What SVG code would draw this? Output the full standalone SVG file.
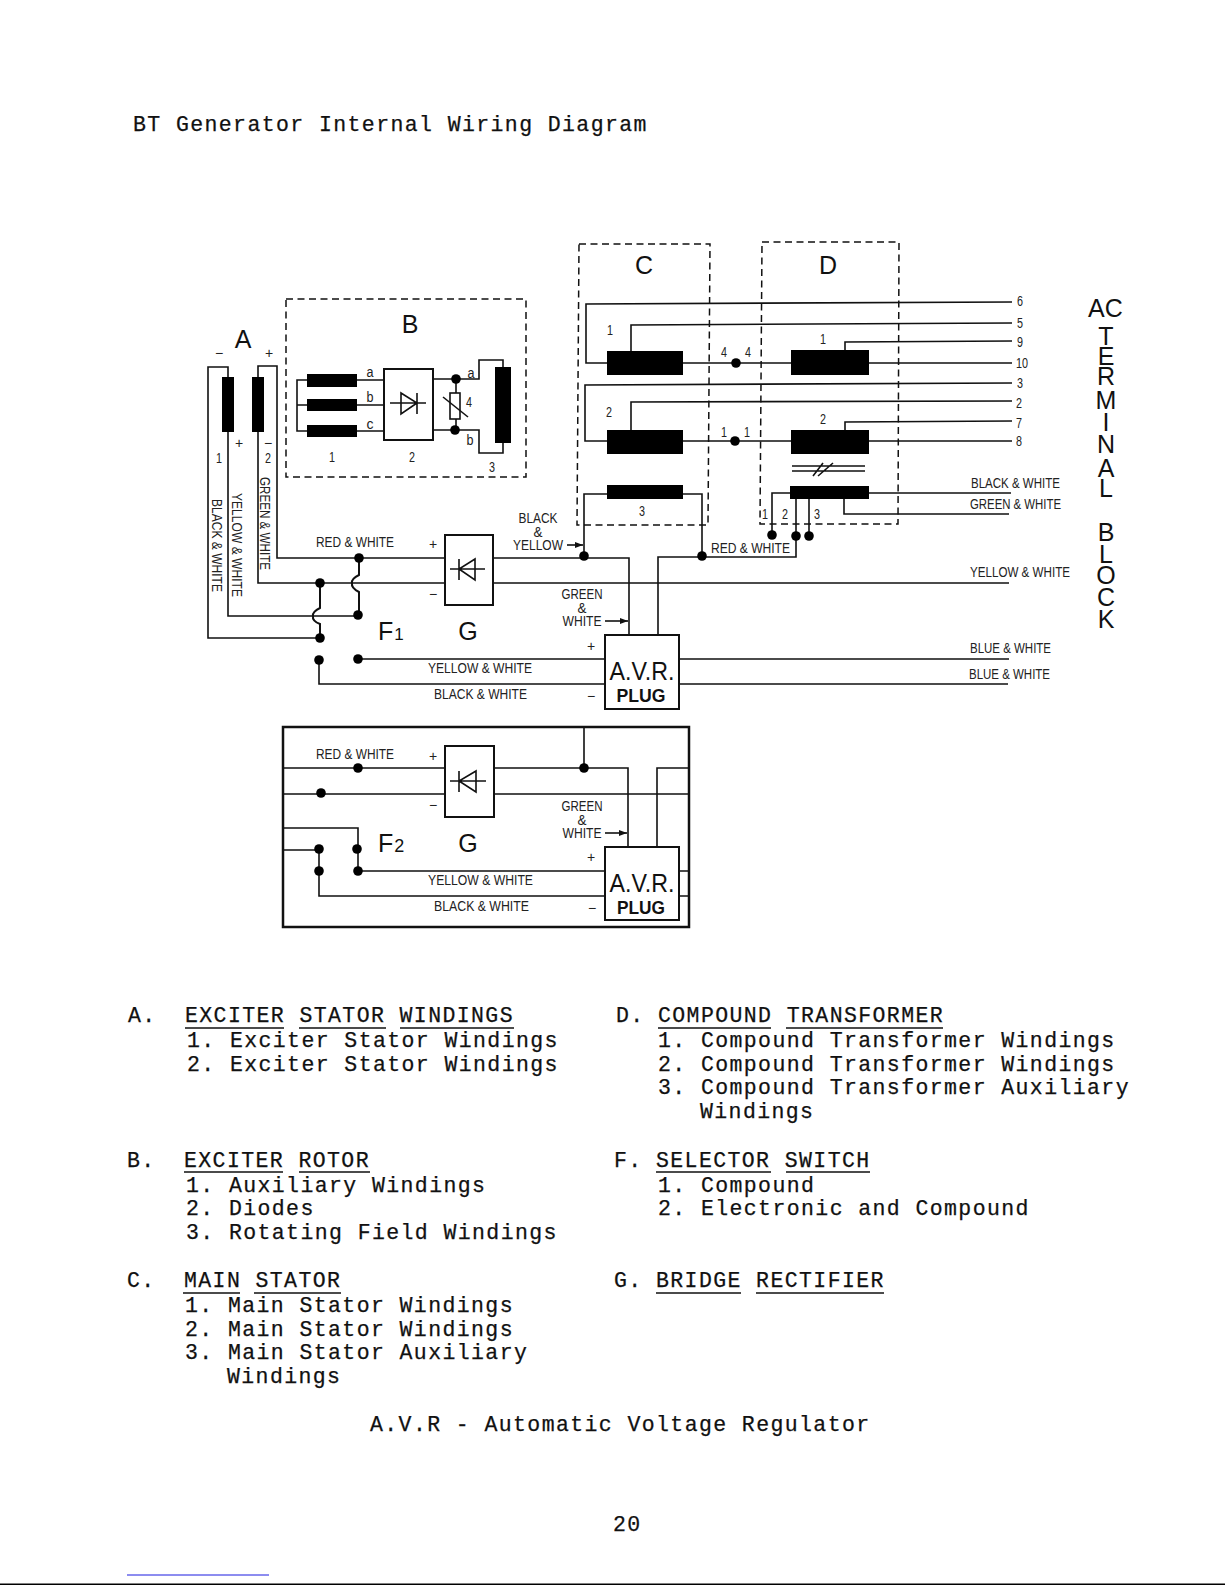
<svg xmlns="http://www.w3.org/2000/svg" width="1225" height="1585" viewBox="0 0 1225 1585">
<style>
.w{fill:none;stroke:#111;stroke-width:1.6}
.b{fill:#fff;stroke:#111;stroke-width:2}
.d{fill:none;stroke:#111;stroke-width:1.5;stroke-dasharray:7 4.5}
.k{fill:#000;stroke:none}
.s{font-family:"Liberation Sans",Arial,sans-serif;font-size:14px;fill:#222}
.m{text-anchor:middle}
.L{font-family:"Liberation Sans",Arial,sans-serif;font-size:25px;fill:#111}
.t{font-family:"Liberation Mono","Courier New",monospace;font-size:21.5px;letter-spacing:1.4px;fill:#111;stroke:#111;stroke-width:.25;white-space:pre}
.u{stroke:#111;stroke-width:1.6;fill:none}
</style>
<defs>
<marker id="ah" viewBox="0 0 8 6" refX="8" refY="3" markerWidth="8" markerHeight="6" markerUnits="userSpaceOnUse" orient="auto"><path d="M0 0L8 3L0 6z" fill="#111"/></marker>
<circle id="dot" r="4.8" fill="#000"/>
</defs>
<rect width="1225" height="1585" fill="#fff"/>
<text class="t" x="133" y="131">BT Generator Internal Wiring Diagram</text>

<g id="connectors">
<path class="w" d="M228 377V367H208V638H320"/>
<path class="w" d="M228 432V616H358"/>
<path class="w" d="M258 377V366H277V558H445"/>
<path class="w" d="M258 432V583H445"/>
<path class="w" style="stroke-width:2" d="M320 583V608Q312 612 313 616Q312 621 320 624V638"/>
<path class="w" style="stroke-width:2" d="M359 558V575Q351 579 352 583Q351 588 359 592V615"/>
<path class="w" d="M358 659H605M319 660V684H605"/>
<path class="w" d="M493 558H629V635M493 583H1009"/>
<path class="w" d="M584 556V494H607M683 494H702V557"/>
<path class="w" d="M796 536V557H658V635"/>
<path class="w" d="M679 659H1009M679 684H1008"/>
<path class="w" d="M607 363H586V304L1012 302"/>
<path class="w" d="M631 351V325L1012 323"/>
<path class="w" d="M683 363H791M869 363H1012"/>
<path class="w" d="M845 350V342L1012 341"/>
<path class="w" d="M607 441H585V385L1012 383"/>
<path class="w" d="M631 430V402L1012 401"/>
<path class="w" d="M683 441H791M869 441H1012"/>
<path class="w" d="M845 430V422L1012 421"/>
<path class="w" d="M869 493H1011M844 499V514H1009"/>
<path class="w" d="M790 493H772V535M809 499V536M796 499V536"/>
<path class="w" d="M792 466H865M792 471H865M813 476L823 463M818 476L833 463"/>
<path class="w" d="M567 545H583" marker-end="url(#ah)"/>
<path class="w" d="M605 621H628" marker-end="url(#ah)"/>
<path class="w" d="M283 768H445M283 794H445"/>
<path class="w" d="M494 768H628V847M494 794H689M584 727V768M657 847V768H689"/>
<path class="w" d="M283 828H358V871H605M283 850H319V896H605M679 871H689M679 896H689"/>
<path class="w" d="M605 833H627" marker-end="url(#ah)"/>
<use href="#dot" x="320" y="583"/><use href="#dot" x="359" y="558"/><use href="#dot" x="358" y="615"/><use href="#dot" x="320" y="638"/><use href="#dot" x="319" y="660"/><use href="#dot" x="358" y="659"/>
<use href="#dot" x="584" y="556"/><use href="#dot" x="702" y="556"/><use href="#dot" x="772" y="535"/><use href="#dot" x="796" y="536"/><use href="#dot" x="809" y="536"/>
<use href="#dot" x="736" y="363"/><use href="#dot" x="735" y="441"/>
<use href="#dot" x="358" y="768"/><use href="#dot" x="321" y="793"/><use href="#dot" x="584" y="768"/><use href="#dot" x="357" y="849"/><use href="#dot" x="358" y="871"/><use href="#dot" x="319" y="849"/><use href="#dot" x="319" y="871"/>
</g>

<g id="node-A">
<text class="L m" x="243" y="348">A</text>
<rect class="k" x="222" y="377" width="12" height="55"/><rect class="k" x="252" y="377" width="12" height="55"/>
<text class="s m" x="219" y="358">−</text><text class="s m" x="269" y="358">+</text>
<text class="s m" x="239" y="448">+</text><text class="s m" x="268" y="448">−</text>
<text class="s m" x="219" y="463" textLength="6" lengthAdjust="spacingAndGlyphs">1</text><text class="s m" x="268" y="463" textLength="6" lengthAdjust="spacingAndGlyphs">2</text>
<text class="s" transform="translate(260,477) rotate(90)" textLength="93" lengthAdjust="spacingAndGlyphs">GREEN &amp; WHITE</text>
<text class="s" transform="translate(232,493) rotate(90)" textLength="104" lengthAdjust="spacingAndGlyphs">YELLOW &amp; WHITE</text>
<text class="s" transform="translate(212,499) rotate(90)" textLength="93" lengthAdjust="spacingAndGlyphs">BLACK &amp; WHITE</text>
</g>

<g id="node-B">
<rect class="d" x="286" y="299" width="240" height="178"/>
<text class="L m" x="410" y="333">B</text>
<path class="w" d="M307 380H297V431H307M297 405H307M357 380H384M357 405H384M357 431H384"/>
<rect class="k" x="307" y="374" width="50" height="13"/><rect class="k" x="307" y="399" width="50" height="12"/><rect class="k" x="307" y="425" width="50" height="12"/>
<rect class="b" x="384" y="369" width="49" height="71"/>
<path class="w" d="M390 403H426M417 393V414M401 393L417 403L401 414Z"/>
<path class="w" d="M433 379H479V360H503V367M433 430H479V453H503V443M456 379V393M456 419V430"/>
<rect class="k" x="495" y="367" width="16" height="76"/>
<rect class="w" x="450" y="393" width="10" height="26"/>
<path class="w" d="M443 397L468 417"/>
<use href="#dot" x="456" y="379"/><use href="#dot" x="455" y="430"/>
<text class="s m" x="370" y="377" textLength="7" lengthAdjust="spacingAndGlyphs">a</text><text class="s m" x="370" y="402" textLength="7" lengthAdjust="spacingAndGlyphs">b</text><text class="s m" x="370" y="429" textLength="7" lengthAdjust="spacingAndGlyphs">c</text>
<text class="s m" x="471" y="378" textLength="7" lengthAdjust="spacingAndGlyphs">a</text><text class="s m" x="470" y="445" textLength="7" lengthAdjust="spacingAndGlyphs">b</text><text class="s m" x="469" y="407" textLength="6" lengthAdjust="spacingAndGlyphs">4</text>
<text class="s m" x="332" y="462" textLength="6" lengthAdjust="spacingAndGlyphs">1</text><text class="s m" x="412" y="462" textLength="6" lengthAdjust="spacingAndGlyphs">2</text><text class="s m" x="492" y="472" textLength="6" lengthAdjust="spacingAndGlyphs">3</text>
</g>

<g id="node-C">
<path class="d" d="M579 244H710L708 525H577Z"/>
<text class="L m" x="644" y="274">C</text>
<rect class="k" x="607" y="351" width="76" height="24"/><rect class="k" x="607" y="430" width="76" height="24"/><rect class="k" x="607" y="485" width="76" height="14"/>
<text class="s m" x="610" y="335" textLength="6" lengthAdjust="spacingAndGlyphs">1</text><text class="s m" x="609" y="417" textLength="6" lengthAdjust="spacingAndGlyphs">2</text><text class="s m" x="642" y="516" textLength="6" lengthAdjust="spacingAndGlyphs">3</text>
<text class="s m" x="724" y="357" textLength="6" lengthAdjust="spacingAndGlyphs">4</text><text class="s m" x="748" y="357" textLength="6" lengthAdjust="spacingAndGlyphs">4</text>
<text class="s m" x="724" y="437" textLength="6" lengthAdjust="spacingAndGlyphs">1</text><text class="s m" x="747" y="437" textLength="6" lengthAdjust="spacingAndGlyphs">1</text>
</g>

<g id="node-D">
<path class="d" d="M762 242H899L898 524H760Z"/>
<text class="L m" x="828" y="274">D</text>
<rect class="k" x="791" y="350" width="78" height="25"/><rect class="k" x="791" y="430" width="78" height="24"/><rect class="k" x="790" y="486" width="79" height="13"/>
<text class="s m" x="823" y="344" textLength="6" lengthAdjust="spacingAndGlyphs">1</text><text class="s m" x="823" y="424" textLength="6" lengthAdjust="spacingAndGlyphs">2</text>
<text class="s m" x="765" y="519" textLength="6" lengthAdjust="spacingAndGlyphs">1</text><text class="s m" x="785" y="519" textLength="6" lengthAdjust="spacingAndGlyphs">2</text><text class="s m" x="817" y="519" textLength="6" lengthAdjust="spacingAndGlyphs">3</text>
</g>

<g id="node-G1">
<rect class="b" x="445" y="535" width="48" height="70"/>
<path class="w" d="M450 569H485M459 559V580M475 559L459 569L475 580Z"/>
<text class="L m" x="468" y="640">G</text>
<text class="s m" x="433" y="549">+</text><text class="s m" x="433" y="599">−</text>
</g>

<g id="node-F1">
<text class="L" x="378" y="640">F<tspan dx="1" style="font-size:17px">1</tspan></text>
</g>

<g id="node-AVR1">
<rect class="b" x="605" y="635" width="74" height="74"/>
<text class="L m" x="642" y="680" textLength="65" lengthAdjust="spacingAndGlyphs">A.V.R.</text>
<text class="L m" x="641" y="702" style="font-size:19px;font-weight:bold" textLength="49" lengthAdjust="spacingAndGlyphs">PLUG</text>
<text class="s m" x="591" y="651">+</text><text class="s m" x="591" y="701">−</text>
</g>

<g id="node-F2-box">
<rect x="283" y="727" width="406" height="200" fill="none" stroke="#111" stroke-width="2.5"/>
</g>
<g id="node-G2">
<rect class="b" x="445" y="746" width="49" height="71"/>
<path class="w" d="M450 781H486M459 771V792M476 771L459 781L476 792Z"/>
<text class="L m" x="468" y="852">G</text>
<text class="s m" x="433" y="761">+</text><text class="s m" x="433" y="810">−</text>
</g>
<g id="node-F2">
<text class="L" x="378" y="852">F<tspan dx="1" style="font-size:18px">2</tspan></text>
</g>
<g id="node-AVR2">
<rect class="b" x="605" y="847" width="74" height="73"/>
<text class="L m" x="642" y="892" textLength="65" lengthAdjust="spacingAndGlyphs">A.V.R.</text>
<text class="L m" x="641" y="914" style="font-size:19px;font-weight:bold" textLength="48" lengthAdjust="spacingAndGlyphs">PLUG</text>
<text class="s m" x="591" y="862">+</text><text class="s m" x="592" y="913">−</text>
</g>

<g id="wire-labels">
<text class="s" x="316" y="547" textLength="78" lengthAdjust="spacingAndGlyphs">RED &amp; WHITE</text>
<text class="s" x="428" y="673" textLength="104" lengthAdjust="spacingAndGlyphs">YELLOW &amp; WHITE</text>
<text class="s" x="434" y="699" textLength="93" lengthAdjust="spacingAndGlyphs">BLACK &amp; WHITE</text>
<text class="s m" x="538" y="523" textLength="39" lengthAdjust="spacingAndGlyphs">BLACK</text><text class="s m" x="538" y="537" textLength="9" lengthAdjust="spacingAndGlyphs">&amp;</text><text class="s m" x="538" y="550" textLength="50" lengthAdjust="spacingAndGlyphs">YELLOW</text>
<text class="s m" x="582" y="599" textLength="41" lengthAdjust="spacingAndGlyphs">GREEN</text><text class="s m" x="582" y="613" textLength="9" lengthAdjust="spacingAndGlyphs">&amp;</text><text class="s m" x="582" y="626" textLength="39" lengthAdjust="spacingAndGlyphs">WHITE</text>
<text class="s" x="711" y="553" textLength="79" lengthAdjust="spacingAndGlyphs">RED &amp; WHITE</text>
<text class="s m" x="1020" y="306" textLength="6" lengthAdjust="spacingAndGlyphs">6</text>
<text class="s m" x="1020" y="328" textLength="6" lengthAdjust="spacingAndGlyphs">5</text>
<text class="s m" x="1020" y="347" textLength="6" lengthAdjust="spacingAndGlyphs">9</text>
<text class="s m" x="1022" y="368" textLength="12" lengthAdjust="spacingAndGlyphs">10</text>
<text class="s m" x="1020" y="388" textLength="6" lengthAdjust="spacingAndGlyphs">3</text>
<text class="s m" x="1019" y="408" textLength="6" lengthAdjust="spacingAndGlyphs">2</text>
<text class="s m" x="1019" y="428" textLength="6" lengthAdjust="spacingAndGlyphs">7</text>
<text class="s m" x="1019" y="446" textLength="6" lengthAdjust="spacingAndGlyphs">8</text>
<text class="s" x="971" y="488" textLength="89" lengthAdjust="spacingAndGlyphs">BLACK &amp; WHITE</text>
<text class="s" x="970" y="509" textLength="91" lengthAdjust="spacingAndGlyphs">GREEN &amp; WHITE</text>
<text class="s" x="970" y="577" textLength="100" lengthAdjust="spacingAndGlyphs">YELLOW &amp; WHITE</text>
<text class="s" x="970" y="653" textLength="81" lengthAdjust="spacingAndGlyphs">BLUE &amp; WHITE</text>
<text class="s" x="969" y="679" textLength="81" lengthAdjust="spacingAndGlyphs">BLUE &amp; WHITE</text>
<text class="s" x="316" y="759" textLength="78" lengthAdjust="spacingAndGlyphs">RED &amp; WHITE</text>
<text class="s m" x="582" y="811" textLength="41" lengthAdjust="spacingAndGlyphs">GREEN</text><text class="s m" x="582" y="825" textLength="9" lengthAdjust="spacingAndGlyphs">&amp;</text><text class="s m" x="582" y="838" textLength="39" lengthAdjust="spacingAndGlyphs">WHITE</text>
<text class="s" x="428" y="885" textLength="105" lengthAdjust="spacingAndGlyphs">YELLOW &amp; WHITE</text>
<text class="s" x="434" y="911" textLength="95" lengthAdjust="spacingAndGlyphs">BLACK &amp; WHITE</text>
</g>

<g id="ac-terminal-block">
<text class="L" x="1088" y="317">AC</text>
<text class="L m"><tspan x="1106" y="345">T</tspan><tspan x="1106" y="365">E</tspan><tspan x="1106" y="385">R</tspan><tspan x="1106" y="409">M</tspan><tspan x="1106" y="431">I</tspan><tspan x="1106" y="453">N</tspan><tspan x="1106" y="477">A</tspan><tspan x="1106" y="497">L</tspan></text>
<text class="L m"><tspan x="1106" y="541">B</tspan><tspan x="1106" y="563">L</tspan><tspan x="1106" y="584">O</tspan><tspan x="1106" y="606">C</tspan><tspan x="1106" y="628">K</tspan></text>
</g>

<g id="legend">
<text class="t" x="128" y="1022">A.</text><text class="t" x="185" y="1022">EXCITER STATOR WINDINGS</text>
<path class="u" d="M185 1028H284M299 1028H386M400 1028H514"/>
<text class="t" x="187" y="1047">1. Exciter Stator Windings</text>
<text class="t" x="187" y="1071">2. Exciter Stator Windings</text>
<text class="t" x="127" y="1167">B.</text><text class="t" x="184" y="1167">EXCITER ROTOR</text>
<path class="u" d="M184 1172H283M299 1172H370"/>
<text class="t" x="186" y="1192">1. Auxiliary Windings</text>
<text class="t" x="186" y="1215">2. Diodes</text>
<text class="t" x="186" y="1239">3. Rotating Field Windings</text>
<text class="t" x="127" y="1287">C.</text><text class="t" x="184" y="1287">MAIN STATOR</text>
<path class="u" d="M183 1293H240M254 1293H341"/>
<text class="t" x="185" y="1312">1. Main Stator Windings</text>
<text class="t" x="185" y="1336">2. Main Stator Windings</text>
<text class="t" x="185" y="1359">3. Main Stator Auxiliary</text>
<text class="t" x="227" y="1383">Windings</text>
<text class="t" x="616" y="1022">D.</text><text class="t" x="658" y="1022">COMPOUND TRANSFORMER</text>
<path class="u" d="M658 1028H771M786 1028H943"/>
<text class="t" x="658" y="1047">1. Compound Transformer Windings</text>
<text class="t" x="658" y="1071">2. Compound Transformer Windings</text>
<text class="t" x="658" y="1094">3. Compound Transformer Auxiliary</text>
<text class="t" x="700" y="1118">Windings</text>
<text class="t" x="614" y="1167">F.</text><text class="t" x="656" y="1167">SELECTOR SWITCH</text>
<path class="u" d="M656 1172H771M786 1172H870"/>
<text class="t" x="658" y="1192">1. Compound</text>
<text class="t" x="658" y="1215">2. Electronic and Compound</text>
<text class="t" x="614" y="1287">G.</text><text class="t" x="656" y="1287">BRIDGE RECTIFIER</text>
<path class="u" d="M656 1293H741M756 1293H884"/>
<text class="t" x="370" y="1431">A.V.R - Automatic Voltage Regulator</text>
<text class="t" x="613" y="1531">20</text>
</g>
<path d="M127 1575H269" stroke="#1a1ae0" stroke-width="1" fill="none"/>
<path d="M0 1584.2H1225" stroke="#000" stroke-width="1.6" fill="none"/>
</svg>
